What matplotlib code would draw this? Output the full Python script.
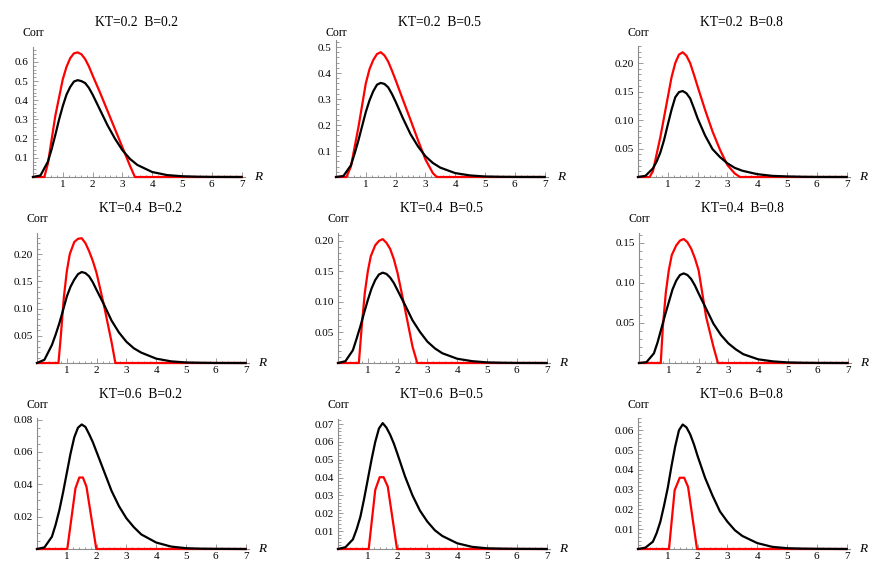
import matplotlib
matplotlib.use("Agg")
import matplotlib.pyplot as plt
from matplotlib.ticker import MultipleLocator, FixedLocator, FormatStrFormatter

plt.rcParams['font.family'] = ['Liberation Serif', 'DejaVu Serif']

# ---- data ----
titles = ["KT=0.2  B=0.2", "KT=0.2  B=0.5", "KT=0.2  B=0.8",
          "KT=0.4  B=0.2", "KT=0.4  B=0.5", "KT=0.4  B=0.8",
          "KT=0.6  B=0.2", "KT=0.6  B=0.5", "KT=0.6  B=0.8"]

r_black = [0, 0.25, 0.5, 0.625, 0.75, 0.875, 1.0, 1.125, 1.25, 1.375, 1.5, 1.625, 1.75, 1.875,
           2.0, 2.25, 2.5, 2.75, 3.0, 3.25, 3.5, 4.0, 4.5, 5.0, 5.5, 6.0, 7.0]

black_1 = [0, 0.008, 0.08, 0.145, 0.22, 0.3, 0.37, 0.43, 0.47, 0.498, 0.505, 0.5, 0.49, 0.465,
           0.43, 0.35, 0.27, 0.2, 0.14, 0.095, 0.063, 0.026, 0.01, 0.004, 0.0015, 0.0005, 0]
black_2 = [0, 0.004, 0.045, 0.09, 0.14, 0.195, 0.25, 0.295, 0.33, 0.355, 0.362, 0.358, 0.345, 0.32,
           0.29, 0.225, 0.165, 0.118, 0.08, 0.054, 0.036, 0.015, 0.006, 0.002, 0.0008, 0.0003, 0]
black_3 = [0, 0.002, 0.015, 0.027, 0.043, 0.065, 0.092, 0.118, 0.14, 0.149, 0.151, 0.147, 0.138, 0.121,
           0.103, 0.073, 0.049, 0.035, 0.024, 0.016, 0.011, 0.005, 0.002, 0.001, 0.0004, 0.0001, 0]
black_4 = [0, 0.006, 0.033, 0.052, 0.073, 0.097, 0.122, 0.14, 0.153, 0.163, 0.167, 0.165, 0.159, 0.148,
           0.134, 0.107, 0.078, 0.056, 0.039, 0.027, 0.019, 0.008, 0.003, 0.001, 0.0004, 0.0001, 0]
black_5 = [0, 0.003, 0.021, 0.04, 0.06, 0.082, 0.103, 0.122, 0.136, 0.145, 0.148, 0.146, 0.14, 0.131,
           0.119, 0.095, 0.07, 0.051, 0.035, 0.024, 0.016, 0.007, 0.003, 0.001, 0.0004, 0.0001, 0]
black_6 = [0, 0.001, 0.012, 0.026, 0.043, 0.06, 0.076, 0.092, 0.103, 0.11, 0.112, 0.11, 0.105, 0.097,
           0.087, 0.068, 0.049, 0.035, 0.0245, 0.017, 0.011, 0.0046, 0.002, 0.0007, 0.0003, 0.0001, 0]
black_7 = [0, 0.001, 0.0076, 0.015, 0.024, 0.035, 0.047, 0.059, 0.069, 0.075, 0.077, 0.0755, 0.071, 0.066,
           0.06, 0.048, 0.036, 0.0265, 0.019, 0.0135, 0.009, 0.004, 0.0015, 0.0005, 0.0002, 0.0001, 0]
black_8 = [0, 0.001, 0.0054, 0.011, 0.018, 0.028, 0.039, 0.05, 0.06, 0.0675, 0.0705, 0.068, 0.064, 0.059,
           0.053, 0.0406, 0.030, 0.0215, 0.0153, 0.0105, 0.0073, 0.0032, 0.0012, 0.0004, 0.0002, 0.0001, 0]
black_9 = [0, 0.0007, 0.0037, 0.008, 0.0138, 0.022, 0.031, 0.042, 0.052, 0.06, 0.0629, 0.0615, 0.058, 0.053,
           0.047, 0.036, 0.027, 0.019, 0.0138, 0.0095, 0.0066, 0.003, 0.0011, 0.0004, 0.0002, 0.0001, 0]

r_red_1 = [0, 0.38, 0.5, 0.75, 1.0, 1.125, 1.25, 1.375, 1.5, 1.625, 1.75, 1.875, 2.0,
           2.25, 2.5, 2.75, 3.0, 3.25, 3.42, 7]
red_1 = [0, 0, 0.07, 0.32, 0.51, 0.575, 0.62, 0.645, 0.65, 0.64, 0.615, 0.577, 0.53,
         0.44, 0.345, 0.25, 0.155, 0.06, 0, 0]
r_red_2 = [0, 0.35, 0.5, 0.75, 1.0, 1.125, 1.25, 1.375, 1.5, 1.625, 1.75, 1.875, 2.0,
           2.25, 2.5, 2.75, 3.0, 3.25, 3.38, 7]
red_2 = [0, 0, 0.04, 0.19, 0.36, 0.415, 0.45, 0.473, 0.48, 0.468, 0.444, 0.41, 0.373,
         0.296, 0.22, 0.142, 0.068, 0.015, 0, 0]
r_red_3 = [0, 0.39, 0.5, 0.75, 1.0, 1.125, 1.25, 1.375, 1.5, 1.625, 1.75, 1.875, 2.0,
           2.25, 2.5, 2.75, 3.0, 3.25, 3.42, 7]
red_3 = [0, 0, 0.01, 0.07, 0.14, 0.175, 0.2, 0.215, 0.219, 0.213, 0.2, 0.18, 0.159,
         0.118, 0.08, 0.048, 0.021, 0.006, 0, 0]
r_red_4 = [0, 0.72, 0.8, 0.9, 1.0, 1.1, 1.25, 1.375, 1.5, 1.625, 1.75, 1.875, 2.0, 2.25, 2.5, 2.63, 7]
red_4 = [0, 0, 0.05, 0.12, 0.168, 0.2, 0.222, 0.228, 0.229, 0.22, 0.205, 0.187, 0.165, 0.105, 0.039, 0, 0]
r_red_5 = [0, 0.7, 0.8, 0.9, 1.0, 1.1, 1.25, 1.375, 1.5, 1.625, 1.75, 1.875, 2.0, 2.25, 2.5, 2.66, 7]
red_5 = [0, 0, 0.062, 0.115, 0.15, 0.175, 0.193, 0.2, 0.203, 0.197, 0.187, 0.17, 0.147, 0.088, 0.027, 0, 0]
r_red_6 = [0, 0.73, 0.8, 0.9, 1.0, 1.1, 1.25, 1.375, 1.5, 1.625, 1.75, 1.875, 2.0, 2.25, 2.5, 2.65, 7]
red_6 = [0, 0, 0.045, 0.088, 0.116, 0.135, 0.147, 0.153, 0.155, 0.151, 0.143, 0.131, 0.116, 0.058, 0.02, 0, 0]
r_red_7 = [0, 1.0, 1.02, 1.29, 1.42, 1.54, 1.66, 1.99, 7]
red_7 = [0, 0, 0.0005, 0.0375, 0.0442, 0.0442, 0.0385, 0, 0]
r_red_8 = [0, 1.03, 1.25, 1.40, 1.53, 1.67, 1.98, 7]
red_8 = [0, 0, 0.0331, 0.0402, 0.0402, 0.035, 0, 0]
r_red_9 = [0, 1.04, 1.23, 1.40, 1.55, 1.68, 1.98, 7]
red_9 = [0, 0, 0.0297, 0.036, 0.036, 0.0314, 0, 0]

blacks = [black_1, black_2, black_3, black_4, black_5, black_6, black_7, black_8, black_9]
reds = [(r_red_1, red_1), (r_red_2, red_2), (r_red_3, red_3), (r_red_4, red_4), (r_red_5, red_5),
        (r_red_6, red_6), (r_red_7, red_7), (r_red_8, red_8), (r_red_9, red_9)]

y_top = [0.678, 0.527, 0.23, 0.2386, 0.213, 0.1625, 0.081, 0.0728, 0.0662]
y_major = [0.1, 0.1, 0.05, 0.05, 0.05, 0.05, 0.02, 0.01, 0.01]
y_minor = [0.02, 0.02, 0.01, 0.01, 0.01, 0.01, 0.005, 0.002, 0.002]
y_fmt = ['%.1f', '%.1f', '%.2f', '%.2f', '%.2f', '%.2f', '%.2f', '%.2f', '%.2f']

# ---- layout (pixels, from top-left) ----
W, H = 883, 586
fig = plt.figure(figsize=(W/100., H/100.), dpi=100)
box = [(33, 177, 47), (336, 177, 40), (638, 177, 46),
       (37, 363, 233), (338, 363, 233), (639, 363, 233),
       (37, 549, 418), (338, 549, 419), (638, 549, 418)]
unit = 29.8      # px per unit of R
xmax = 7.1
title_y = [23, 208, 394]
corr_y = [33, 219, 405]
axcol = '#8c8c8c'

for i in range(9):
    left, base, top = box[i]
    ax = fig.add_axes([left/W, (H-base)/H, xmax*unit/W, (base-top)/H])
    ax.set_xlim(0, xmax)
    ax.set_ylim(0, y_top[i])
    ax.plot(reds[i][0], reds[i][1], color='#ff0000', lw=1.6, clip_on=False, zorder=3)
    ax.plot(r_black, blacks[i], color='black', lw=1.6, clip_on=False, zorder=4)

    for s in ['top', 'right']:
        ax.spines[s].set_visible(False)
    for s in ['left', 'bottom']:
        ax.spines[s].set_color(axcol)
        ax.spines[s].set_linewidth(0.8)
    ax.set_facecolor('none')

    ax.xaxis.set_major_locator(FixedLocator([1, 2, 3, 4, 5, 6, 7]))
    ax.xaxis.set_minor_locator(MultipleLocator(0.2))
    nmaj = int(y_top[i]/y_major[i] + 1e-6)
    ax.yaxis.set_major_locator(FixedLocator([y_major[i]*k for k in range(1, nmaj+1)]))
    ax.yaxis.set_minor_locator(MultipleLocator(y_minor[i]))
    ax.yaxis.set_major_formatter(FormatStrFormatter(y_fmt[i]))
    ax.tick_params(which='both', direction='in', color=axcol, width=0.6, labelsize=8)
    ax.tick_params(which='major', length=3.5)
    ax.tick_params(which='minor', length=1.8)
    ax.tick_params(axis='x', pad=2)
    ax.tick_params(axis='y', pad=3)

    row = i // 3
    fig.text((left + xmax*unit/2 - 2)/W, 1 - title_y[row]/H, titles[i],
             ha='center', va='center', fontsize=9.8)
    fig.text(left/W, 1 - corr_y[row]/H, "Corr", ha='center', va='center', fontsize=8.5)
    ax.text(7.57, 0, "R", style='italic', fontsize=9.5, ha='center', va='center', clip_on=False)

plt.savefig('out.png', dpi=100)
